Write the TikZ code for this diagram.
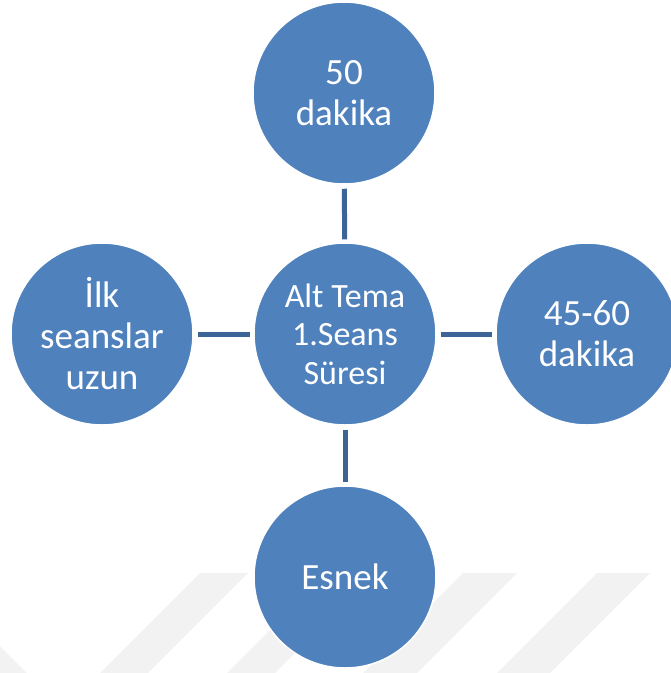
\documentclass[tikz,border=0pt]{standalone}
\usepackage{fontspec}
\setmainfont{Carlito}
\definecolor{bubble}{HTML}{4F81BD}
\definecolor{linkblue}{HTML}{3C6497}
\definecolor{bandgray}{HTML}{F2F2F2}
\begin{document}
\begin{tikzpicture}[x=1pt,y=1pt,
  bubble/.style={circle, fill=bubble, draw=white, line width=1.5pt,
    minimum size=182pt, inner sep=0pt, text=white, align=center,
    font=\fontsize{37}{41}\selectfont},
  hub/.style={bubble, font=\fontsize{34}{38.5}\selectfont},
  link/.style={draw=linkblue, line width=5pt, shorten <=4pt, shorten >=3pt}]
  \useasboundingbox (0,0) rectangle (671,-673);
  % faint diagonal bands along the bottom
  \fill[bandgray] (200,-573) -- (248,-573) -- (148,-673) -- (100,-673) -- cycle;
  \fill[bandgray] (463,-573) -- (517,-573) -- (417,-673) -- (363,-673) -- cycle;
  \fill[bandgray] (597,-573) -- (650,-573) -- (550,-673) -- (497,-673) -- cycle;
  \fill[bandgray] (290,-610) -- (338,-610) -- (275,-673) -- (227,-673) -- cycle;
  \fill[bandgray] (0,-646) -- (27,-673) -- (0,-673) -- cycle;
  % nodes
  \node[hub]    (hub)   at (345,-334) {Alt Tema\\1.Seans\\Süresi};
  \node[bubble] (top)   at (344,-93)  {50\\dakika};
  \node[bubble] (left)  at (102,-334) {İlk\\seanslar\\uzun};
  \node[bubble] (right) at (587,-334) {45-60\\dakika};
  \node[bubble] (down)  at (345,-577) {Esnek};
  % connectors
  \draw[link] (top) -- (hub);
  \draw[link] (left) -- (hub);
  \draw[link] (hub) -- (right);
  \draw[link] (hub) -- (down);
\end{tikzpicture}
\end{document}
